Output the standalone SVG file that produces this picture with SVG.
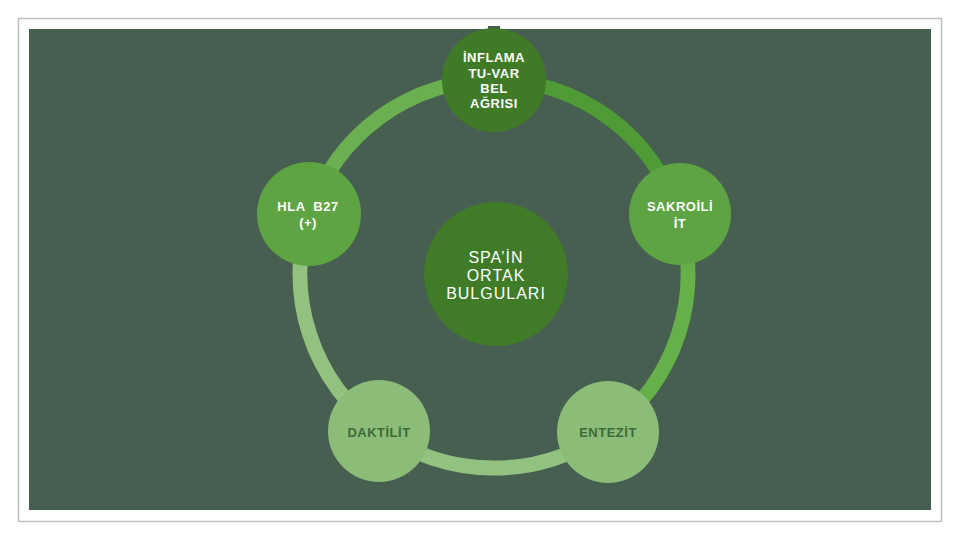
<svg xmlns="http://www.w3.org/2000/svg" width="960" height="540" viewBox="0 0 960 540">
<style>
.t{font-family:"Liberation Sans",Arial,sans-serif;font-weight:bold;font-size:13px;text-anchor:middle;fill:#ffffff;letter-spacing:0.5px}
.d{fill:#3e6a37}
.c{font-family:"Liberation Sans",Arial,sans-serif;font-size:16px;text-anchor:middle;fill:#ffffff;letter-spacing:1px}
.arc{fill:none;stroke-width:15}
</style>
<rect x="0" y="0" width="960" height="540" fill="#ffffff"/>
<rect x="18.5" y="18.5" width="923" height="503" fill="#ffffff" stroke="#c0c0c0" stroke-width="1.5"/>
<rect x="29" y="29" width="902" height="481" fill="#475f50"/>
<rect x="488" y="26" width="12" height="4" fill="#475f50"/>
<g id="connectors">
<path class="arc" d="M309.5,214.1 A194,194 0 0 1 494,80" stroke="#6bb050"/>
<path class="arc" d="M494,80 A194,194 0 0 1 678.5,214.1" stroke="#4f9c36"/>
<path class="arc" d="M678.5,214.1 A194,194 0 0 1 608,431" stroke="#66b04a"/>
<path class="arc" d="M608,431 A194,194 0 0 1 380,431" stroke="#92c27f"/>
<path class="arc" d="M380,431 A194,194 0 0 1 309.5,214.1" stroke="#93c280"/>
</g>
<g id="center">
<circle cx="496" cy="274" r="72" fill="#407b28"/>
<text class="c" x="496" y="263">SPA’İN</text>
<text class="c" x="496" y="281">ORTAK</text>
<text class="c" x="496" y="299">BULGULARI</text>
</g>
<g id="top">
<circle cx="494" cy="80" r="52" fill="#3f7a27"/>
<text class="t" x="494" y="62">İNFLAMA</text>
<text class="t" x="494" y="78">TU-VAR</text>
<text class="t" x="494" y="93">BEL</text>
<text class="t" x="494" y="108">AĞRISI</text>
</g>
<g id="right">
<circle cx="680" cy="214" r="51" fill="#5ea442"/>
<text class="t" x="680" y="211">SAKROİLİ</text>
<text class="t" x="680" y="228">İT</text>
</g>
<g id="bottom-right">
<circle cx="608" cy="432" r="51" fill="#8bbd78"/>
<text class="t d" x="608" y="437">ENTEZİT</text>
</g>
<g id="bottom-left">
<circle cx="379" cy="431" r="51" fill="#8bbd78"/>
<text class="t d" x="379" y="437">DAKTİLİT</text>
</g>
<g id="left">
<circle cx="309" cy="214" r="52" fill="#5ea442"/>
<text class="t" x="308" y="211" xml:space="preserve">HLA  B27</text>
<text class="t" x="308" y="227">(+)</text>
</g>
</svg>
